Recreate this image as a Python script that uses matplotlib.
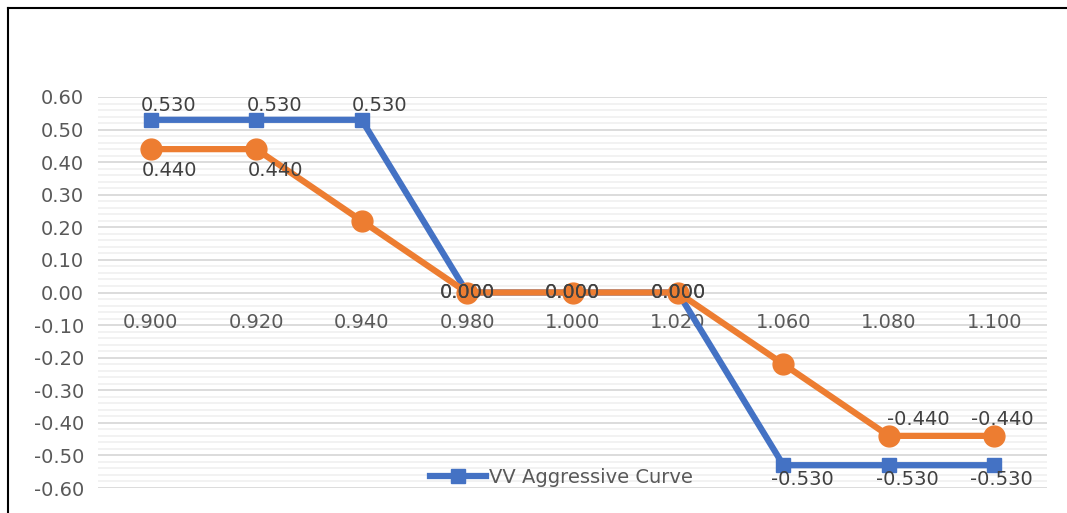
import numpy as np
import matplotlib.pyplot as plt
from matplotlib.lines import Line2D
from matplotlib.ticker import MultipleLocator

plt.rcParams['font.family'] = ['DejaVu Sans']

# =========================
# Data
# =========================
categories = ["0.900", "0.920", "0.940", "0.980", "1.000",
              "1.020", "1.060", "1.080", "1.100"]
aggressive = [0.53, 0.53, 0.53, 0.0, 0.0, 0.0, -0.53, -0.53, -0.53]
second_curve = [0.44, 0.44, 0.22, 0.0, 0.0, 0.0, -0.22, -0.44, -0.44]
second_labelled = [True, True, False, True, True, True, False, True, True]

blue = "#4472c4"
orange = "#ed7d31"
label_col = "#404040"
tick_col = "#595959"
fs = 14

# =========================
# Figure
# =========================
fig = plt.figure(figsize=(10.67, 5.13), dpi=100)
ax = fig.add_axes([98 / 1067, 1 - 488 / 513, (1047 - 98) / 1067, (488 - 97) / 513])

x = np.arange(len(categories))

ax.set_ylim(-0.6, 0.6)
ax.set_xlim(-0.5, len(categories) - 0.5)
ax.yaxis.set_major_locator(MultipleLocator(0.1))
ax.yaxis.set_minor_locator(MultipleLocator(0.02))
ax.grid(which="minor", axis="y", color="#f0f0f0", lw=1.2, zorder=0)
ax.grid(which="major", axis="y", color="#d9d9d9", lw=1.3, zorder=0)
ax.set_axisbelow(True)
for s in ax.spines.values():
    s.set_visible(False)
ax.tick_params(axis="both", which="both", length=0)
ax.set_yticklabels([f"{v:.2f}" for v in ax.get_yticks()])
ax.tick_params(axis="y", labelsize=fs, labelcolor=tick_col, pad=10)
ax.set_xticks([])

# x labels sit on the zero line, Excel style
for xi, c in zip(x, categories):
    ax.annotate(c, (xi, 0), xytext=(0, -30), textcoords="offset pixels",
                ha="center", va="center", fontsize=fs, color=tick_col)

# =========================
# Lines
# =========================
line_blue, = ax.plot(x, aggressive, color=blue, lw=4.5, marker="s",
                     markersize=10, solid_joinstyle="miter", zorder=3,
                     label="VV Aggressive Curve")
ax.plot(x, second_curve, color=orange, lw=4.5, marker="o",
        markersize=15, zorder=4)

# =========================
# Data labels
# =========================
for i, v in enumerate(aggressive):
    if v > 0:
        off = (18, 14)
    elif v < 0:
        off = (7, -14) if i == len(aggressive) - 1 else (19, -14)
    else:
        off = (0, 0)
    ax.annotate(f"{v:.3f}", (x[i], v), xytext=off, textcoords="offset pixels",
                ha="center", va="center", fontsize=fs, color=label_col, zorder=6)

for i, v in enumerate(second_curve):
    if not second_labelled[i]:
        continue
    if v > 0:
        off = (19, -21)
    elif v < 0:
        off = (8, 16) if i == len(second_curve) - 1 else (29, 16)
    else:
        off = (0, 0)
    ax.annotate(f"{v:.3f}", (x[i], v), xytext=off, textcoords="offset pixels",
                ha="center", va="center", fontsize=fs, color=label_col, zorder=6)

ax.legend(handles=[line_blue], loc="center", bbox_to_anchor=(0.488, 0.028),
          frameon=False, fontsize=fs, labelcolor=tick_col,
          handlelength=2.9, handletextpad=0.15, borderpad=0)

# chart frame (left and top edges)
fig.add_artist(Line2D([8 / 1067, 8 / 1067], [0, 1 - 8 / 513], color="black",
                      lw=1.5, transform=fig.transFigure))
fig.add_artist(Line2D([8 / 1067, 1], [1 - 8 / 513, 1 - 8 / 513], color="black",
                      lw=1.5, transform=fig.transFigure))

fig.savefig("out.png", dpi=100)
